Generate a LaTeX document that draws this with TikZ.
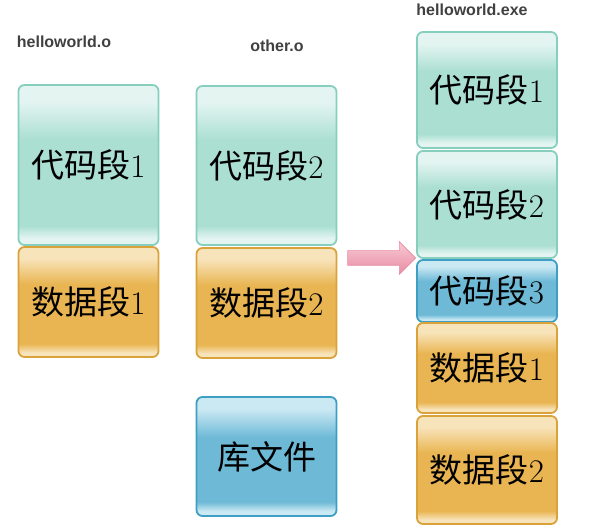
\documentclass[tikz,border=0pt]{standalone}
\usepackage{fontspec}
\setmainfont{Latin Modern Roman}
\newfontfamily\cjk{Noto Sans CJK SC}
\newfontfamily\lbl{Liberation Sans}
\usetikzlibrary{shapes.arrows}
\definecolor{tealD}{HTML}{86CFBF}
\definecolor{tealM}{HTML}{ABDFD2}
\definecolor{tealL}{HTML}{E4F5F1}
\definecolor{orD}{HTML}{D9A23A}
\definecolor{orM}{HTML}{E9B552}
\definecolor{orL}{HTML}{F8E4BB}
\definecolor{blD}{HTML}{3E9EC4}
\definecolor{blM}{HTML}{6DB9D6}
\definecolor{blL}{HTML}{CBE9F3}
\definecolor{pinkD}{HTML}{E88CA3}
\definecolor{pinkL}{HTML}{F8C9D3}
\pgfdeclareverticalshading{glossteal}{100bp}{color(0bp)=(tealL); color(25bp)=(tealL); color(27bp)=(tealL); color(31bp)=(tealM); color(58bp)=(tealM); color(70bp)=(tealL); color(75bp)=(tealL); color(100bp)=(tealL)}
\pgfdeclareverticalshading{glossor}{100bp}{color(0bp)=(orL); color(25bp)=(orL); color(27bp)=(orL); color(31bp)=(orM); color(58bp)=(orM); color(70bp)=(orL); color(75bp)=(orL); color(100bp)=(orL)}
\pgfdeclareverticalshading{glossbl}{100bp}{color(0bp)=(blL); color(25bp)=(blL); color(27bp)=(blL); color(31bp)=(blM); color(58bp)=(blM); color(70bp)=(blL); color(75bp)=(blL); color(100bp)=(blL)}
\tikzset{
  seg/.style={rounded corners=6pt, line width=1.8pt, inner sep=0pt, outer sep=0pt,
    minimum width=#1, font=\fontsize{33}{35}\selectfont, text=black},
  codebox/.style={seg=140pt, draw=tealD, shading=glossteal},
  databox/.style={seg=140pt, draw=orD, shading=glossor},
  libbox/.style={seg=140pt, draw=blD, shading=glossbl},
  title/.style={font=\lbl\fontsize{16}{18}\selectfont\bfseries, text=black!75},
}
\begin{document}
\begin{tikzpicture}[x=1pt,y=1pt]
\useasboundingbox (0,0) rectangle (594,530);
% titles
\node[title] (t1) at (64,488) {helloworld.o};
\node[title] (t2) at (277,484) {other.o};
\node[title] (t3) at (472,520) {helloworld.exe};
% helloworld.o
\node[codebox, minimum height=160pt] (hc) at (88.5,365) {{\cjk 代码段}1};
\node[databox, minimum height=110pt] (hd) at (88.5,228) {{\cjk 数据段}1};
% other.o
\node[codebox, minimum height=159pt] (oc) at (266.5,364.5) {{\cjk 代码段}2};
\node[databox, minimum height=110pt] (od) at (266.5,227) {{\cjk 数据段}2};
% library
\node[libbox, minimum height=119pt] (lib) at (266.5,73.5) {{\cjk 库文件}};
% helloworld.exe
\node[codebox, minimum height=116pt] (ec1) at (487,440) {{\cjk 代码段}1};
\node[codebox, minimum height=107pt] (ec2) at (487,325.5) {{\cjk 代码段}2};
\node[libbox, minimum height=62pt] (ec3) at (487,239) {{\cjk 代码段}3};
\node[databox, minimum height=90pt] (ed1) at (487,162) {{\cjk 数据段}1};
\node[databox, minimum height=108pt] (ed2) at (487,60) {{\cjk 数据段}2};
% arrow
\node[single arrow, minimum height=68pt, single arrow head extend=9pt,
  single arrow head indent=0pt, inner xsep=0pt, inner ysep=7pt, top color=pinkL, bottom color=pinkD,
  draw=pinkD, line width=0.6pt] (arr) at (378,272) {};
\end{tikzpicture}
\end{document}
